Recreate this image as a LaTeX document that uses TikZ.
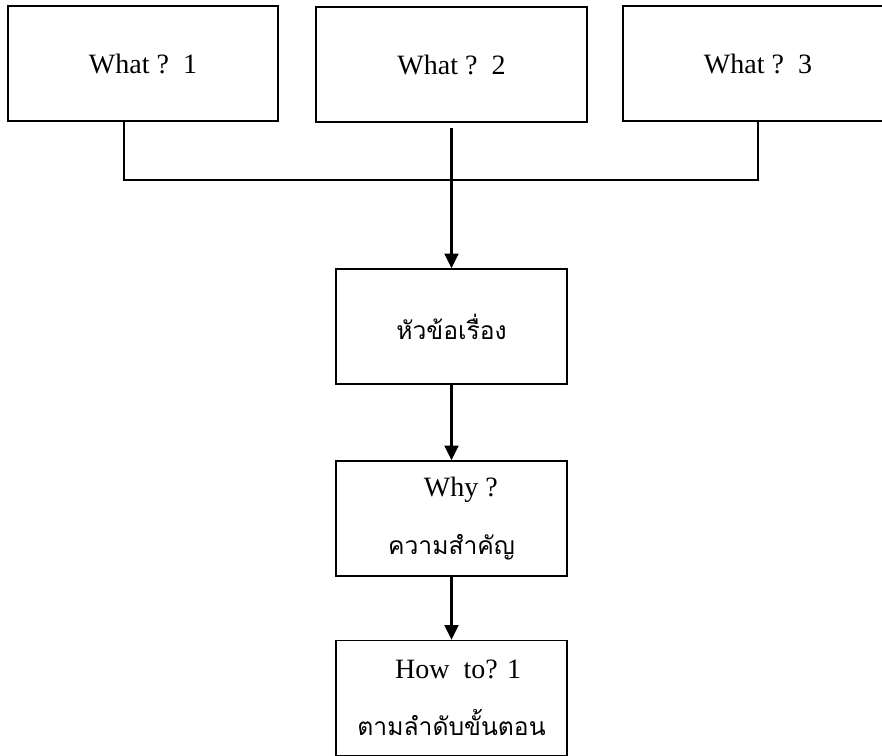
\documentclass[tikz,border=0pt]{standalone}
\usepackage{fontspec}
\setmainfont{Liberation Serif}
\newfontfamily\thaifont[Script=Thai]{Loma}
\usetikzlibrary{arrows.meta}
\begin{document}
\begin{tikzpicture}[x=0.75pt,y=-0.75pt,
  box/.style={draw=black,line width=1.2pt,fill=white,minimum width=270*0.75pt,minimum height=115*0.75pt,inner sep=0pt,align=center,font=\fontsize{21}{39}\selectfont},
  midbox/.style={box,minimum width=231*0.75pt},
  link/.style={line width=1.2pt},
  arr/.style={line width=1.8pt,-{Triangle[width=10.5pt,length=11pt]}}]
\useasboundingbox (0,0) rectangle (882,756);
\node[box] (w1) at (143,63.5) {What ?\ \ 1};
\node[box,minimum width=271*0.75pt] (w2) at (451.5,64.5) {What ?\ \ 2};
\node[box] (w3) at (758,63.5) {What ?\ \ 3};
\node[midbox] (topic) at (451.5,326.5) {\thaifont\fontsize{18.5}{39}\selectfont หัวข้อเรื่อง};
\node[midbox] (why) at (451.5,518.5) {\hspace*{14pt}Why ?\\[5pt] {\thaifont\fontsize{18.5}{39}\selectfont ความสำคัญ}};
\node[midbox] (how) at (451.5,698) {\hspace*{10pt}How\ \ to? 1\\[4pt] {\thaifont\fontsize{18.5}{39}\selectfont ตามลำดับขั้นตอน}};
\coordinate (c1) at (124,180);
\coordinate (c3) at (758,180);
\draw[link] (w1.south -| c1) -- (c1) -- (c3) -- (w3.south);
\draw[arr] ([yshift=-3.75pt]w2.south) -- (topic.north);
\draw[arr] (topic.south) -- (why.north);
\draw[arr] (why.south) -- (how.north);
\end{tikzpicture}
\end{document}
